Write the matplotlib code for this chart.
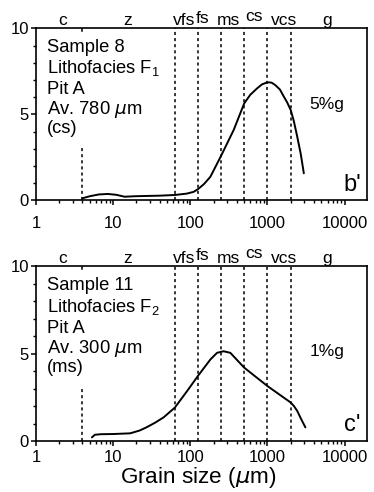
import matplotlib
matplotlib.use("Agg")
import matplotlib.pyplot as plt
from matplotlib.ticker import LogLocator, FixedLocator, NullFormatter, FixedFormatter

plt.rcParams['font.family'] = ['Liberation Sans', 'DejaVu Sans']
plt.rcParams['mathtext.default'] = 'regular'

# ---- data ----
size_top = [4, 5, 6.5, 8.5, 11, 14, 20, 40, 63, 90, 110, 125, 150, 182, 250, 365,
            500, 600, 735, 850, 1000, 1130, 1260, 1450, 1600, 1800, 2000, 2200,
            2430, 2700, 2960]
pct_top = [0.13, 0.25, 0.35, 0.38, 0.33, 0.22, 0.25, 0.28, 0.32, 0.4, 0.5, 0.65,
           0.95, 1.38, 2.59, 4.1, 5.65, 6.15, 6.52, 6.75, 6.87, 6.85, 6.71, 6.45,
           6.1, 5.7, 5.26, 4.6, 3.71, 2.7, 1.58]

size_bot = [5.3, 5.8, 7, 10, 16.6, 22, 27, 35, 45, 63, 91, 125, 182, 222, 270,
            330, 500, 1000, 2000, 2200, 2430, 2700, 3100]
pct_bot = [0.21, 0.36, 0.39, 0.40, 0.44, 0.6, 0.78, 1.05, 1.35, 1.91, 2.86, 3.71,
           4.66, 5.04, 5.13, 5.04, 4.19, 3.14, 2.2, 2.0, 1.72, 1.3, 0.78]

class_bounds = [63, 125, 250, 500, 1000, 2000]
clay_silt_bound = 4
class_names = ['c', 'z', 'vfs', 'fs', 'ms', 'cs', 'vcs', 'g']
class_pos = [2.18, 15.2, 84, 144, 314, 676, 1640, 5960]
class_raise = [0, 0, 0, 0.015, 0, 0.025, 0, 0]

info_top = ['Sample 8', 'Lithofacies F$_1$', 'Pit A', r'Av. 780 $\mathit{\mu}$m', '(cs)']
info_bot = ['Sample 11', 'Lithofacies F$_2$', 'Pit A', r'Av. 300 $\mathit{\mu}$m', '(ms)']
gravel_top = '5%g'
gravel_bot = '1%g'
panel_top = "b'"
panel_bot = "c'"

xticks = [1, 10, 100, 1000, 10000]
xticklabels = ['1', '10', '100', '1000', '10000']
yticks = [0, 5, 10]

fig = plt.figure(figsize=(3.74, 4.92), dpi=100)
ax1 = fig.add_axes([0.0963, 0.5925, 0.885, 0.3497])
ax2 = fig.add_axes([0.0963, 0.1036, 0.885, 0.3557])


def style(ax, sizes, pcts, info, grav, panel, grav_y, xpad):
    ax.set_xscale('log')
    ax.set_xlim(1, 19500)
    ax.set_ylim(0, 10)
    for b in class_bounds:
        ax.axvline(b, color='black', lw=1.1, ls=(0, (2, 2)))
    ax.plot([clay_silt_bound, clay_silt_bound], [0, 3.05], color='black', lw=1.1,
            ls=(0, (2, 2)))
    ax.plot([clay_silt_bound, clay_silt_bound], [9.85, 10], color='black', lw=1.1)
    ax.plot(sizes, pcts, color='black', lw=1.4, solid_capstyle='round')
    for s in ax.spines.values():
        s.set_linewidth(1.2)
    ax.xaxis.set_major_locator(FixedLocator(xticks))
    ax.xaxis.set_major_formatter(FixedFormatter(xticklabels))
    ax.xaxis.set_minor_locator(LogLocator(base=10, subs=range(2, 10), numticks=20))
    ax.xaxis.set_minor_formatter(NullFormatter())
    ax.yaxis.set_major_locator(FixedLocator(yticks))
    ax.yaxis.set_minor_locator(FixedLocator(range(0, 11)))
    ax.tick_params(which='major', direction='out', length=3.5, width=1.1,
                   labelsize=12)
    ax.tick_params(axis='x', which='major', pad=xpad)
    ax.tick_params(axis='y', which='major', pad=1.5)
    ax.tick_params(which='minor', direction='out', length=2.5, width=1.0)
    tr = ax.get_xaxis_transform()
    for name, pos, r in zip(class_names, class_pos, class_raise):
        ax.text(pos, 1.018 + r, name, transform=tr, ha='center', va='baseline',
                fontsize=12.5)
    ys = [0.864, 0.74, 0.617, 0.503, 0.392]
    for t, y in zip(info, ys):
        ax.text(0.033, y, t, transform=ax.transAxes, ha='left', va='baseline',
                fontsize=13.2)
    ax.text(0.878, grav_y, grav, transform=ax.transAxes, ha='center', va='center',
            fontsize=12.5)
    ax.text(0.955, 0.09, panel, transform=ax.transAxes, ha='center', va='center',
            fontsize=17)


style(ax1, size_top, pct_top, info_top, gravel_top, panel_top, 0.56, 7.5)
style(ax2, size_bot, pct_bot, info_bot, gravel_bot, panel_bot, 0.51, 3)
fig.text(0.0963 + 0.885 / 2 - 0.01, 0.004, r'Grain size ($\mathit{\mu}$m)',
         fontsize=16.2, ha='center', va='bottom')

fig.savefig('out.png', dpi=100)
